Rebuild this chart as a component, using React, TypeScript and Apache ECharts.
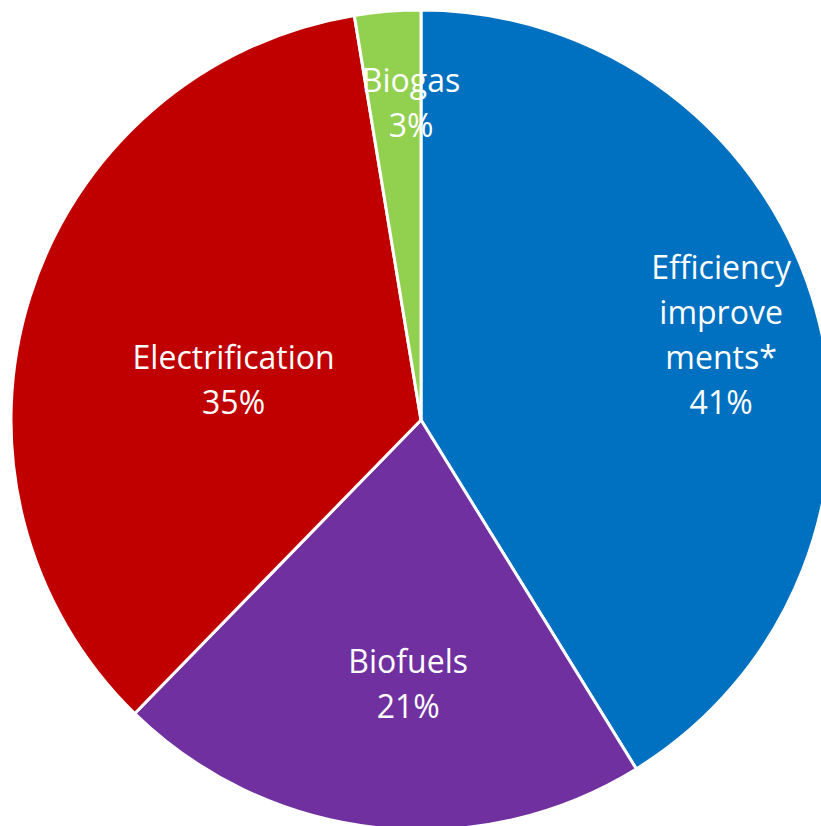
import React, { useEffect, useRef } from "react";
import * as echarts from "echarts";

const categories = ["Efficiency\nimprove\nments*", "Biofuels", "Electrification", "Biogas"];
const values = [41.2, 21.1, 35.1, 2.6];
const colors = ["#0070C0", "#7030A0", "#C00000", "#92D050"];
const labelOffsets: [number, number][] = [[100, -29], [10, 56], [11, 21], [7, -111]];

export default function App() {
  const ref = useRef<HTMLDivElement>(null);
  useEffect(() => {
    const chart = echarts.init(ref.current!, null, { renderer: "svg" });
    chart.setOption({
      animation: false,
      backgroundColor: "#ffffff",
      series: [
        {
          type: "pie",
          center: [421, 420],
          radius: 410,
          startAngle: 90,
          clockwise: true,
          avoidLabelOverlap: false,
          itemStyle: { borderColor: "#ffffff", borderWidth: 3 },
          label: {
            position: "inside",
            color: "#ffffff",
            fontFamily: "Open Sans",
            fontSize: 32,
            lineHeight: 45,
            align: "center",
            formatter: (p: any) => `${p.name}\n${Math.round(p.value)}%`,
          },
          labelLine: { show: false },
          emphasis: { disabled: true },
          data: categories.map((name, i) => ({
            name,
            value: values[i],
            itemStyle: { color: colors[i] },
            label: { offset: labelOffsets[i] },
          })),
        },
      ],
    });
    return () => chart.dispose();
  }, []);
  return (
    <div
      ref={ref}
      style={{ position: "fixed", left: 0, top: 0, width: 821, height: 826 }}
    />
  );
}
